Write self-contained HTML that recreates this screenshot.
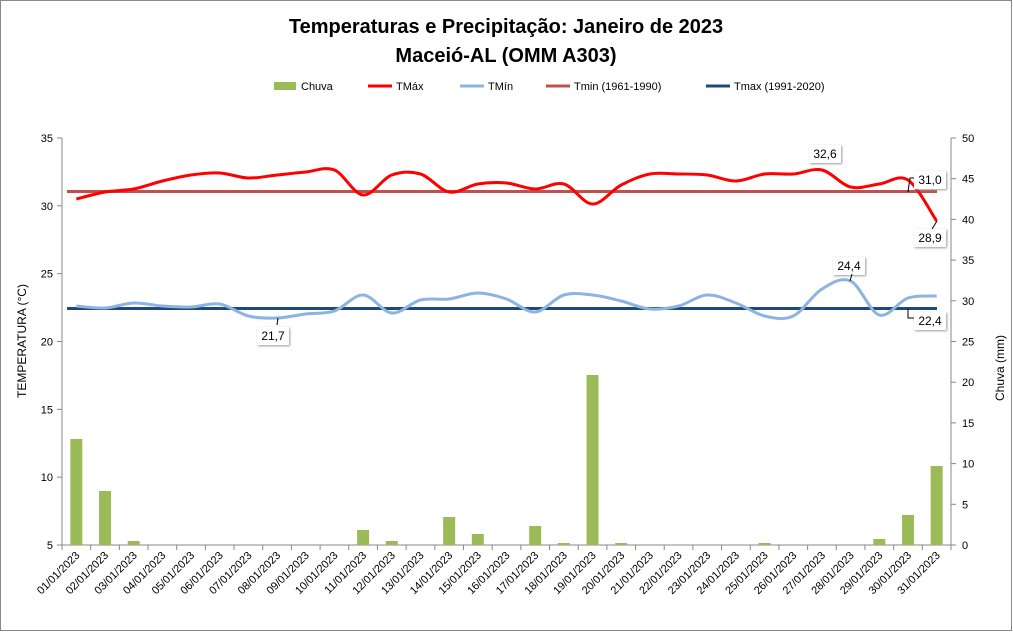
<!DOCTYPE html><html><head><meta charset="utf-8"><style>body{margin:0;background:#fff}svg{display:block;font-family:"Liberation Sans",sans-serif}</style></head><body>
<svg id="s" width="1013" height="632" xmlns="http://www.w3.org/2000/svg">
<rect x="0.5" y="0.5" width="1011" height="630" fill="#fff" stroke="#888"/>
<text x="506" y="33" text-anchor="middle" font-size="20" font-weight="bold">Temperaturas e Precipitação: Janeiro de 2023</text>
<text x="506" y="62" text-anchor="middle" font-size="20" font-weight="bold">Maceió-AL (OMM A303)</text>
<g font-size="11">
<rect x="274" y="82" width="22" height="8" fill="#9bbb59"/><text x="301" y="90">Chuva</text>
<line x1="368" y1="86" x2="392" y2="86" stroke="#f00" stroke-width="3"/><text x="396" y="90">TMáx</text>
<line x1="460" y1="86" x2="484" y2="86" stroke="#8db3e2" stroke-width="3"/><text x="488" y="90">TMín</text>
<line x1="546" y1="86" x2="570" y2="86" stroke="#c0504d" stroke-width="3"/><text x="574" y="90">Tmin (1961-1990)</text>
<line x1="706" y1="86" x2="730" y2="86" stroke="#1f497d" stroke-width="3"/><text x="734" y="90">Tmax (1991-2020)</text>
</g>
<g id="g"></g>
</svg>
<script>
var g=document.getElementById('g'),h='';
var L=62,R=951,T=138,B=545;
h+='<line x1="'+L+'" y1="'+T+'" x2="'+L+'" y2="'+B+'" stroke="#888"/><line x1="'+R+'" y1="'+T+'" x2="'+R+'" y2="'+B+'" stroke="#888"/><line x1="'+L+'" y1="'+B+'" x2="'+R+'" y2="'+B+'" stroke="#888"/>';
for(var i=0;i<=6;i++){var y=T+i*(B-T)/6;h+='<line x1="57" y1="'+y+'" x2="'+L+'" y2="'+y+'" stroke="#888"/><text x="53" y="'+(y+4)+'" text-anchor="end" font-size="11">'+(35-5*i)+'</text>';}
for(var i=0;i<=10;i++){var y=T+i*(B-T)/10;h+='<line x1="'+R+'" y1="'+y+'" x2="'+(R+5)+'" y2="'+y+'" stroke="#888"/><text x="962" y="'+(y+4)+'" font-size="11">'+(50-5*i)+'</text>';}
var w=(R-L)/31;
for(var i=0;i<=31;i++){var x=L+i*w;h+='<line x1="'+x+'" y1="'+B+'" x2="'+x+'" y2="'+(B+5)+'" stroke="#888"/>';}
var rain={0:439,1:491,2:541,10:530,11:541,13:517,14:534,16:526,17:543,18:375,19:543,24:543,28:539,29:515,30:466};
for(var k in rain){var x=L+w*(+k+0.5);h+='<rect x="'+(x-6)+'" y="'+rain[k]+'" width="12" height="'+(B-rain[k])+'" fill="#9bbb59"/>';}
for(var i=0;i<31;i++){var x=L+w*(i+0.5)+4;var d=(i<9?'0':'')+(i+1)+'/01/2023';h+='<text transform="translate('+x+',556) rotate(-45)" text-anchor="end" font-size="11">'+d+'</text>';}
h+='<line x1="'+(L+5)+'" y1="191.5" x2="'+(R-14)+'" y2="191.5" stroke="#c0504d" stroke-width="3"/>';
h+='<line x1="'+(L+5)+'" y1="308.5" x2="'+(R-14)+'" y2="308.5" stroke="#1f497d" stroke-width="3"/>';
function path(a){var p=a.map(function(y,i){return [L+w*(i+0.5),y]});var s='M'+p[0];for(var i=0;i<p.length-1;i++){var p0=p[i-1]||p[i],p1=p[i],p2=p[i+1],p3=p[i+2]||p2;s+=' C'+(p1[0]+(p2[0]-p0[0])/6)+','+(p1[1]+(p2[1]-p0[1])/6)+' '+(p2[0]-(p3[0]-p1[0])/6)+','+(p2[1]-(p3[1]-p1[1])/6)+' '+p2;}return s;}
var tx=[199,192,189,181,175,173,178,175,172,170,195,175,174,192,184,183,189,184,204,185,174,174,175,181,174,174,170,187,184,180,221];
var tn=[306,308,303,306,307,304,316,318,314,311,295,313,300,299,293,299,312,295,295,301,309,306,295,303,316,316,289,281,315,298,296];
h+='<path d="'+path(tn)+'" fill="none" stroke="#8db3e2" stroke-width="3"/>';
h+='<path d="'+path(tx)+'" fill="none" stroke="#f00" stroke-width="3"/>';
function lab(x,y,t){h+='<rect x="'+x+'" y="'+y+'" width="32" height="18" fill="#fff" style="filter:drop-shadow(1px 1px 1px #999)"/><text x="'+(x+16)+'" y="'+(y+13)+'" text-anchor="middle" font-size="12">'+t+'</text>';}
lab(809,145,'32,6');lab(914,171,'31,0');lab(914,229,'28,9');lab(833,257,'24,4');lab(914,312,'22,4');lab(257,327,'21,7');
h+='<path d="M908,192 L910,178 L914,178 M937,221 L932,229 M850,281 L852,274 M908,309 L908,318 L914,318 M278,318 L277,325" stroke="#000" fill="none"/>';
h+='<text transform="translate(26,341) rotate(-90)" text-anchor="middle" font-size="12">TEMPERATURA (°C)</text>';
h+='<text transform="translate(1004,368) rotate(-90)" text-anchor="middle" font-size="12">Chuva (mm)</text>';
g.innerHTML=h;
</script></body></html>
